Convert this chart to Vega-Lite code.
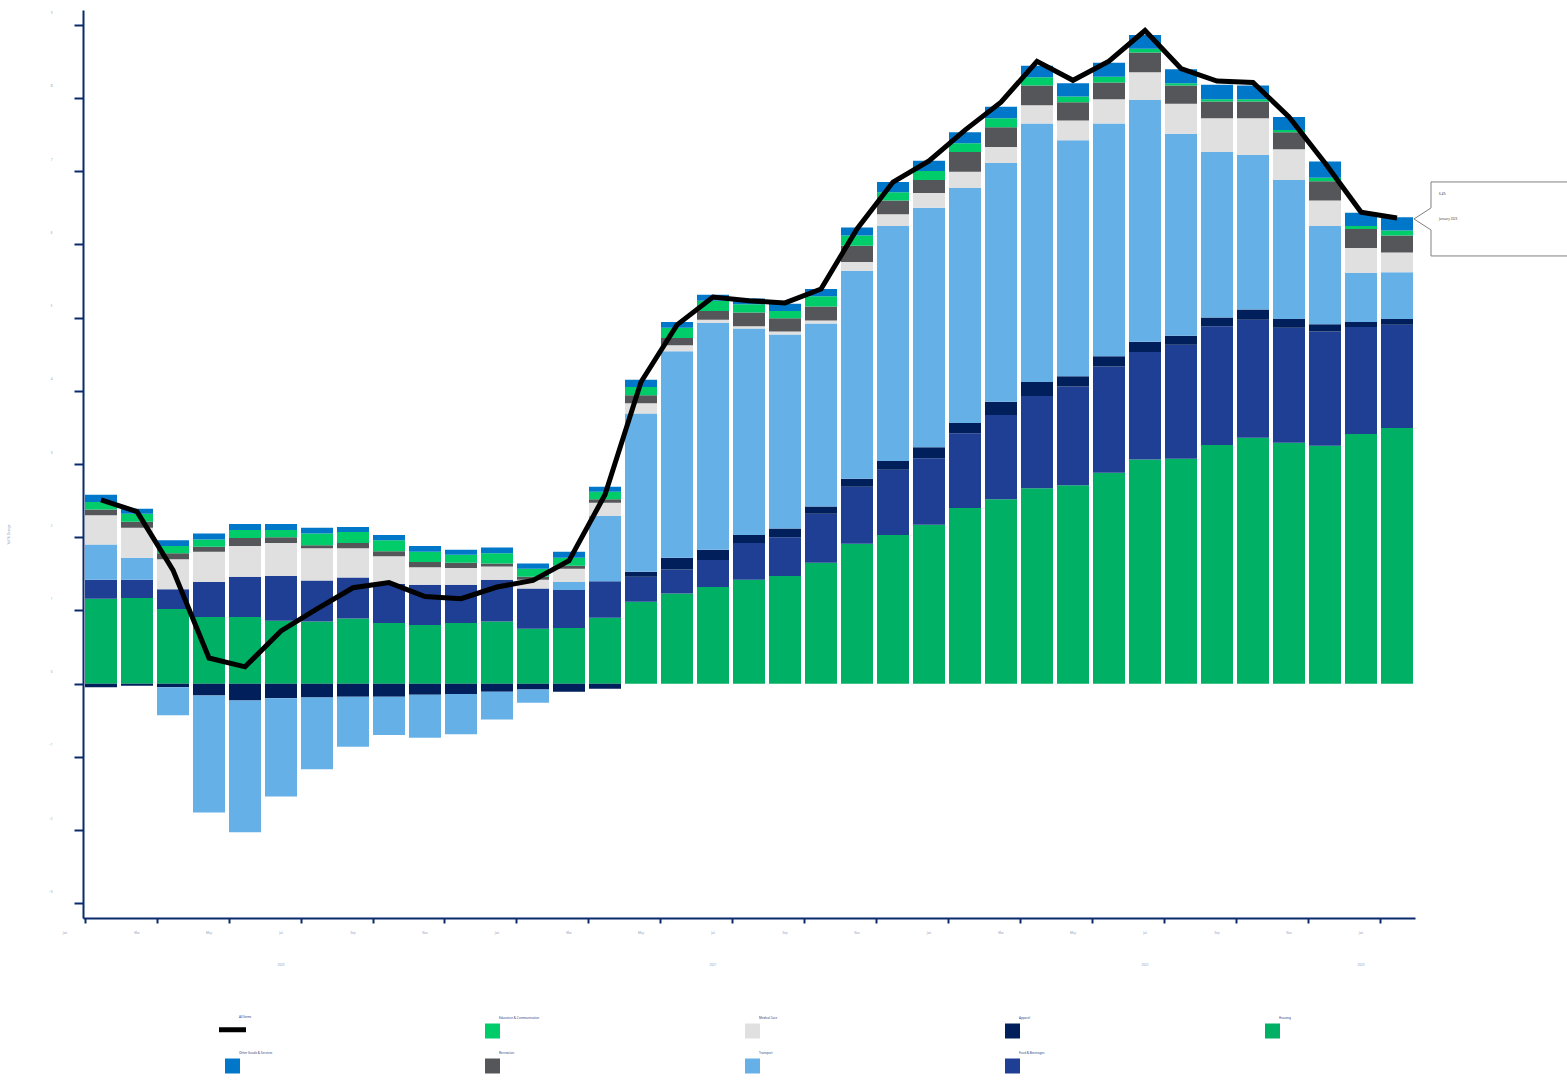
{
  "$schema": "https://vega.github.io/schema/vega-lite/v6.json",
  "width": 1332,
  "height": 908,
  "autosize": {"type": "none"},
  "padding": {"left": 83, "top": 10, "right": 152, "bottom": 163},
  "background": "white",
  "config": {
    "view": {"stroke": null},
    "axis": {"domainColor": "#0b2a6b", "tickColor": "#0b2a6b", "domainWidth": 2, "tickWidth": 2, "grid": false, "labelFont": "Noto Sans", "titleFont": "Noto Sans"},
    "legend": {"labelFont": "Noto Sans"}
  },
  "datasets": {
    "contrib": [
      {"month":"2020-01","category":"Housing","value":1.16},{"month":"2020-01","category":"Food & Beverages","value":0.26},{"month":"2020-01","category":"Apparel","value":-0.05},{"month":"2020-01","category":"Transport","value":0.48},{"month":"2020-01","category":"Medical Care","value":0.40},{"month":"2020-01","category":"Recreation","value":0.08},{"month":"2020-01","category":"Education & Communication","value":0.10},{"month":"2020-01","category":"Other Goods & Services","value":0.10},
      {"month":"2020-02","category":"Housing","value":1.17},{"month":"2020-02","category":"Food & Beverages","value":0.25},{"month":"2020-02","category":"Apparel","value":-0.03},{"month":"2020-02","category":"Transport","value":0.30},{"month":"2020-02","category":"Medical Care","value":0.41},{"month":"2020-02","category":"Recreation","value":0.08},{"month":"2020-02","category":"Education & Communication","value":0.11},{"month":"2020-02","category":"Other Goods & Services","value":0.07},
      {"month":"2020-03","category":"Housing","value":1.02},{"month":"2020-03","category":"Food & Beverages","value":0.27},{"month":"2020-03","category":"Apparel","value":-0.05},{"month":"2020-03","category":"Transport","value":-0.38},{"month":"2020-03","category":"Medical Care","value":0.41},{"month":"2020-03","category":"Recreation","value":0.08},{"month":"2020-03","category":"Education & Communication","value":0.10},{"month":"2020-03","category":"Other Goods & Services","value":0.08},
      {"month":"2020-04","category":"Housing","value":0.91},{"month":"2020-04","category":"Food & Beverages","value":0.48},{"month":"2020-04","category":"Apparel","value":-0.16},{"month":"2020-04","category":"Transport","value":-1.60},{"month":"2020-04","category":"Medical Care","value":0.41},{"month":"2020-04","category":"Recreation","value":0.07},{"month":"2020-04","category":"Education & Communication","value":0.10},{"month":"2020-04","category":"Other Goods & Services","value":0.08},
      {"month":"2020-05","category":"Housing","value":0.91},{"month":"2020-05","category":"Food & Beverages","value":0.55},{"month":"2020-05","category":"Apparel","value":-0.23},{"month":"2020-05","category":"Transport","value":-1.80},{"month":"2020-05","category":"Medical Care","value":0.42},{"month":"2020-05","category":"Recreation","value":0.11},{"month":"2020-05","category":"Education & Communication","value":0.11},{"month":"2020-05","category":"Other Goods & Services","value":0.08},
      {"month":"2020-06","category":"Housing","value":0.86},{"month":"2020-06","category":"Food & Beverages","value":0.61},{"month":"2020-06","category":"Apparel","value":-0.20},{"month":"2020-06","category":"Transport","value":-1.34},{"month":"2020-06","category":"Medical Care","value":0.45},{"month":"2020-06","category":"Recreation","value":0.08},{"month":"2020-06","category":"Education & Communication","value":0.10},{"month":"2020-06","category":"Other Goods & Services","value":0.08},
      {"month":"2020-07","category":"Housing","value":0.85},{"month":"2020-07","category":"Food & Beverages","value":0.56},{"month":"2020-07","category":"Apparel","value":-0.19},{"month":"2020-07","category":"Transport","value":-0.98},{"month":"2020-07","category":"Medical Care","value":0.44},{"month":"2020-07","category":"Recreation","value":0.04},{"month":"2020-07","category":"Education & Communication","value":0.16},{"month":"2020-07","category":"Other Goods & Services","value":0.08},
      {"month":"2020-08","category":"Housing","value":0.89},{"month":"2020-08","category":"Food & Beverages","value":0.56},{"month":"2020-08","category":"Apparel","value":-0.18},{"month":"2020-08","category":"Transport","value":-0.68},{"month":"2020-08","category":"Medical Care","value":0.40},{"month":"2020-08","category":"Recreation","value":0.07},{"month":"2020-08","category":"Education & Communication","value":0.15},{"month":"2020-08","category":"Other Goods & Services","value":0.07},
      {"month":"2020-09","category":"Housing","value":0.83},{"month":"2020-09","category":"Food & Beverages","value":0.53},{"month":"2020-09","category":"Apparel","value":-0.18},{"month":"2020-09","category":"Transport","value":-0.52},{"month":"2020-09","category":"Medical Care","value":0.38},{"month":"2020-09","category":"Recreation","value":0.07},{"month":"2020-09","category":"Education & Communication","value":0.15},{"month":"2020-09","category":"Other Goods & Services","value":0.07},
      {"month":"2020-10","category":"Housing","value":0.80},{"month":"2020-10","category":"Food & Beverages","value":0.55},{"month":"2020-10","category":"Apparel","value":-0.15},{"month":"2020-10","category":"Transport","value":-0.59},{"month":"2020-10","category":"Medical Care","value":0.24},{"month":"2020-10","category":"Recreation","value":0.07},{"month":"2020-10","category":"Education & Communication","value":0.14},{"month":"2020-10","category":"Other Goods & Services","value":0.08},
      {"month":"2020-11","category":"Housing","value":0.83},{"month":"2020-11","category":"Food & Beverages","value":0.52},{"month":"2020-11","category":"Apparel","value":-0.14},{"month":"2020-11","category":"Transport","value":-0.55},{"month":"2020-11","category":"Medical Care","value":0.23},{"month":"2020-11","category":"Recreation","value":0.07},{"month":"2020-11","category":"Education & Communication","value":0.11},{"month":"2020-11","category":"Other Goods & Services","value":0.07},
      {"month":"2020-12","category":"Housing","value":0.85},{"month":"2020-12","category":"Food & Beverages","value":0.57},{"month":"2020-12","category":"Apparel","value":-0.11},{"month":"2020-12","category":"Transport","value":-0.38},{"month":"2020-12","category":"Medical Care","value":0.18},{"month":"2020-12","category":"Recreation","value":0.04},{"month":"2020-12","category":"Education & Communication","value":0.14},{"month":"2020-12","category":"Other Goods & Services","value":0.08},
      {"month":"2021-01","category":"Housing","value":0.75},{"month":"2021-01","category":"Food & Beverages","value":0.55},{"month":"2021-01","category":"Apparel","value":-0.08},{"month":"2021-01","category":"Transport","value":-0.18},{"month":"2021-01","category":"Medical Care","value":0.12},{"month":"2021-01","category":"Recreation","value":0.04},{"month":"2021-01","category":"Education & Communication","value":0.11},{"month":"2021-01","category":"Other Goods & Services","value":0.07},
      {"month":"2021-02","category":"Housing","value":0.76},{"month":"2021-02","category":"Food & Beverages","value":0.52},{"month":"2021-02","category":"Apparel","value":-0.11},{"month":"2021-02","category":"Transport","value":0.11},{"month":"2021-02","category":"Medical Care","value":0.18},{"month":"2021-02","category":"Recreation","value":0.04},{"month":"2021-02","category":"Education & Communication","value":0.11},{"month":"2021-02","category":"Other Goods & Services","value":0.08},
      {"month":"2021-03","category":"Housing","value":0.90},{"month":"2021-03","category":"Food & Beverages","value":0.50},{"month":"2021-03","category":"Apparel","value":-0.07},{"month":"2021-03","category":"Transport","value":0.89},{"month":"2021-03","category":"Medical Care","value":0.18},{"month":"2021-03","category":"Recreation","value":0.05},{"month":"2021-03","category":"Education & Communication","value":0.10},{"month":"2021-03","category":"Other Goods & Services","value":0.07},
      {"month":"2021-04","category":"Housing","value":1.12},{"month":"2021-04","category":"Food & Beverages","value":0.34},{"month":"2021-04","category":"Apparel","value":0.07},{"month":"2021-04","category":"Transport","value":2.16},{"month":"2021-04","category":"Medical Care","value":0.14},{"month":"2021-04","category":"Recreation","value":0.11},{"month":"2021-04","category":"Education & Communication","value":0.11},{"month":"2021-04","category":"Other Goods & Services","value":0.10},
      {"month":"2021-05","category":"Housing","value":1.23},{"month":"2021-05","category":"Food & Beverages","value":0.33},{"month":"2021-05","category":"Apparel","value":0.16},{"month":"2021-05","category":"Transport","value":2.82},{"month":"2021-05","category":"Medical Care","value":0.08},{"month":"2021-05","category":"Recreation","value":0.10},{"month":"2021-05","category":"Education & Communication","value":0.14},{"month":"2021-05","category":"Other Goods & Services","value":0.08},
      {"month":"2021-06","category":"Housing","value":1.32},{"month":"2021-06","category":"Food & Beverages","value":0.37},{"month":"2021-06","category":"Apparel","value":0.14},{"month":"2021-06","category":"Transport","value":3.10},{"month":"2021-06","category":"Medical Care","value":0.04},{"month":"2021-06","category":"Recreation","value":0.12},{"month":"2021-06","category":"Education & Communication","value":0.14},{"month":"2021-06","category":"Other Goods & Services","value":0.08},
      {"month":"2021-07","category":"Housing","value":1.42},{"month":"2021-07","category":"Food & Beverages","value":0.50},{"month":"2021-07","category":"Apparel","value":0.11},{"month":"2021-07","category":"Transport","value":2.82},{"month":"2021-07","category":"Medical Care","value":0.03},{"month":"2021-07","category":"Recreation","value":0.19},{"month":"2021-07","category":"Education & Communication","value":0.11},{"month":"2021-07","category":"Other Goods & Services","value":0.08},
      {"month":"2021-08","category":"Housing","value":1.47},{"month":"2021-08","category":"Food & Beverages","value":0.53},{"month":"2021-08","category":"Apparel","value":0.12},{"month":"2021-08","category":"Transport","value":2.65},{"month":"2021-08","category":"Medical Care","value":0.04},{"month":"2021-08","category":"Recreation","value":0.18},{"month":"2021-08","category":"Education & Communication","value":0.10},{"month":"2021-08","category":"Other Goods & Services","value":0.10},
      {"month":"2021-09","category":"Housing","value":1.65},{"month":"2021-09","category":"Food & Beverages","value":0.67},{"month":"2021-09","category":"Apparel","value":0.10},{"month":"2021-09","category":"Transport","value":2.50},{"month":"2021-09","category":"Medical Care","value":0.04},{"month":"2021-09","category":"Recreation","value":0.19},{"month":"2021-09","category":"Education & Communication","value":0.14},{"month":"2021-09","category":"Other Goods & Services","value":0.10},
      {"month":"2021-10","category":"Housing","value":1.91},{"month":"2021-10","category":"Food & Beverages","value":0.78},{"month":"2021-10","category":"Apparel","value":0.11},{"month":"2021-10","category":"Transport","value":2.84},{"month":"2021-10","category":"Medical Care","value":0.12},{"month":"2021-10","category":"Recreation","value":0.22},{"month":"2021-10","category":"Education & Communication","value":0.14},{"month":"2021-10","category":"Other Goods & Services","value":0.11},
      {"month":"2021-11","category":"Housing","value":2.03},{"month":"2021-11","category":"Food & Beverages","value":0.89},{"month":"2021-11","category":"Apparel","value":0.12},{"month":"2021-11","category":"Transport","value":3.21},{"month":"2021-11","category":"Medical Care","value":0.16},{"month":"2021-11","category":"Recreation","value":0.19},{"month":"2021-11","category":"Education & Communication","value":0.11},{"month":"2021-11","category":"Other Goods & Services","value":0.14},
      {"month":"2021-12","category":"Housing","value":2.17},{"month":"2021-12","category":"Food & Beverages","value":0.91},{"month":"2021-12","category":"Apparel","value":0.15},{"month":"2021-12","category":"Transport","value":3.27},{"month":"2021-12","category":"Medical Care","value":0.20},{"month":"2021-12","category":"Recreation","value":0.18},{"month":"2021-12","category":"Education & Communication","value":0.12},{"month":"2021-12","category":"Other Goods & Services","value":0.14},
      {"month":"2022-01","category":"Housing","value":2.40},{"month":"2022-01","category":"Food & Beverages","value":1.02},{"month":"2022-01","category":"Apparel","value":0.14},{"month":"2022-01","category":"Transport","value":3.21},{"month":"2022-01","category":"Medical Care","value":0.22},{"month":"2022-01","category":"Recreation","value":0.27},{"month":"2022-01","category":"Education & Communication","value":0.12},{"month":"2022-01","category":"Other Goods & Services","value":0.15},
      {"month":"2022-02","category":"Housing","value":2.52},{"month":"2022-02","category":"Food & Beverages","value":1.15},{"month":"2022-02","category":"Apparel","value":0.18},{"month":"2022-02","category":"Transport","value":3.26},{"month":"2022-02","category":"Medical Care","value":0.22},{"month":"2022-02","category":"Recreation","value":0.27},{"month":"2022-02","category":"Education & Communication","value":0.12},{"month":"2022-02","category":"Other Goods & Services","value":0.16},
      {"month":"2022-03","category":"Housing","value":2.67},{"month":"2022-03","category":"Food & Beverages","value":1.26},{"month":"2022-03","category":"Apparel","value":0.19},{"month":"2022-03","category":"Transport","value":3.53},{"month":"2022-03","category":"Medical Care","value":0.25},{"month":"2022-03","category":"Recreation","value":0.27},{"month":"2022-03","category":"Education & Communication","value":0.11},{"month":"2022-03","category":"Other Goods & Services","value":0.16},
      {"month":"2022-04","category":"Housing","value":2.71},{"month":"2022-04","category":"Food & Beverages","value":1.35},{"month":"2022-04","category":"Apparel","value":0.14},{"month":"2022-04","category":"Transport","value":3.22},{"month":"2022-04","category":"Medical Care","value":0.27},{"month":"2022-04","category":"Recreation","value":0.25},{"month":"2022-04","category":"Education & Communication","value":0.08},{"month":"2022-04","category":"Other Goods & Services","value":0.18},
      {"month":"2022-05","category":"Housing","value":2.88},{"month":"2022-05","category":"Food & Beverages","value":1.45},{"month":"2022-05","category":"Apparel","value":0.14},{"month":"2022-05","category":"Transport","value":3.18},{"month":"2022-05","category":"Medical Care","value":0.33},{"month":"2022-05","category":"Recreation","value":0.23},{"month":"2022-05","category":"Education & Communication","value":0.08},{"month":"2022-05","category":"Other Goods & Services","value":0.19},
      {"month":"2022-06","category":"Housing","value":3.06},{"month":"2022-06","category":"Food & Beverages","value":1.47},{"month":"2022-06","category":"Apparel","value":0.14},{"month":"2022-06","category":"Transport","value":3.30},{"month":"2022-06","category":"Medical Care","value":0.38},{"month":"2022-06","category":"Recreation","value":0.27},{"month":"2022-06","category":"Education & Communication","value":0.05},{"month":"2022-06","category":"Other Goods & Services","value":0.19},
      {"month":"2022-07","category":"Housing","value":3.07},{"month":"2022-07","category":"Food & Beverages","value":1.56},{"month":"2022-07","category":"Apparel","value":0.12},{"month":"2022-07","category":"Transport","value":2.76},{"month":"2022-07","category":"Medical Care","value":0.41},{"month":"2022-07","category":"Recreation","value":0.25},{"month":"2022-07","category":"Education & Communication","value":0.03},{"month":"2022-07","category":"Other Goods & Services","value":0.19},
      {"month":"2022-08","category":"Housing","value":3.26},{"month":"2022-08","category":"Food & Beverages","value":1.62},{"month":"2022-08","category":"Apparel","value":0.12},{"month":"2022-08","category":"Transport","value":2.26},{"month":"2022-08","category":"Medical Care","value":0.46},{"month":"2022-08","category":"Recreation","value":0.23},{"month":"2022-08","category":"Education & Communication","value":0.03},{"month":"2022-08","category":"Other Goods & Services","value":0.20},
      {"month":"2022-09","category":"Housing","value":3.36},{"month":"2022-09","category":"Food & Beverages","value":1.61},{"month":"2022-09","category":"Apparel","value":0.14},{"month":"2022-09","category":"Transport","value":2.11},{"month":"2022-09","category":"Medical Care","value":0.50},{"month":"2022-09","category":"Recreation","value":0.23},{"month":"2022-09","category":"Education & Communication","value":0.03},{"month":"2022-09","category":"Other Goods & Services","value":0.19},
      {"month":"2022-10","category":"Housing","value":3.29},{"month":"2022-10","category":"Food & Beverages","value":1.57},{"month":"2022-10","category":"Apparel","value":0.12},{"month":"2022-10","category":"Transport","value":1.90},{"month":"2022-10","category":"Medical Care","value":0.42},{"month":"2022-10","category":"Recreation","value":0.23},{"month":"2022-10","category":"Education & Communication","value":0.03},{"month":"2022-10","category":"Other Goods & Services","value":0.18},
      {"month":"2022-11","category":"Housing","value":3.25},{"month":"2022-11","category":"Food & Beverages","value":1.56},{"month":"2022-11","category":"Apparel","value":0.10},{"month":"2022-11","category":"Transport","value":1.34},{"month":"2022-11","category":"Medical Care","value":0.35},{"month":"2022-11","category":"Recreation","value":0.26},{"month":"2022-11","category":"Education & Communication","value":0.05},{"month":"2022-11","category":"Other Goods & Services","value":0.22},
      {"month":"2022-12","category":"Housing","value":3.41},{"month":"2022-12","category":"Food & Beverages","value":1.46},{"month":"2022-12","category":"Apparel","value":0.07},{"month":"2022-12","category":"Transport","value":0.67},{"month":"2022-12","category":"Medical Care","value":0.34},{"month":"2022-12","category":"Recreation","value":0.26},{"month":"2022-12","category":"Education & Communication","value":0.04},{"month":"2022-12","category":"Other Goods & Services","value":0.18},
      {"month":"2023-01","category":"Housing","value":3.49},{"month":"2023-01","category":"Food & Beverages","value":1.41},{"month":"2023-01","category":"Apparel","value":0.08},{"month":"2023-01","category":"Transport","value":0.64},{"month":"2023-01","category":"Medical Care","value":0.27},{"month":"2023-01","category":"Recreation","value":0.23},{"month":"2023-01","category":"Education & Communication","value":0.07},{"month":"2023-01","category":"Other Goods & Services","value":0.18}
    ],
    "cpi": [
      {"month":"2020-01","value":2.51},{"month":"2020-02","value":2.35},{"month":"2020-03","value":1.55},{"month":"2020-04","value":0.35},{"month":"2020-05","value":0.23},{"month":"2020-06","value":0.72},{"month":"2020-07","value":1.02},{"month":"2020-08","value":1.31},{"month":"2020-09","value":1.38},{"month":"2020-10","value":1.19},{"month":"2020-11","value":1.16},{"month":"2020-12","value":1.32},
      {"month":"2021-01","value":1.41},{"month":"2021-02","value":1.68},{"month":"2021-03","value":2.58},{"month":"2021-04","value":4.12},{"month":"2021-05","value":4.90},{"month":"2021-06","value":5.28},{"month":"2021-07","value":5.23},{"month":"2021-08","value":5.20},{"month":"2021-09","value":5.39},{"month":"2021-10","value":6.21},{"month":"2021-11","value":6.85},{"month":"2021-12","value":7.14},
      {"month":"2022-01","value":7.56},{"month":"2022-02","value":7.94},{"month":"2022-03","value":8.50},{"month":"2022-04","value":8.24},{"month":"2022-05","value":8.50},{"month":"2022-06","value":8.92},{"month":"2022-07","value":8.40},{"month":"2022-08","value":8.23},{"month":"2022-09","value":8.21},{"month":"2022-10","value":7.74},{"month":"2022-11","value":7.11},{"month":"2022-12","value":6.44},
      {"month":"2023-01","value":6.36}
    ],
    "callout": [
      {"month":"2023-01","value":6.36,"label":"6.4%","date":"January 2023"}
    ]
  },
  "layer": [
    {
      "data": {"name": "contrib"},
      "transform": [
        {"calculate": "indexof(['Housing','Food & Beverages','Apparel','Transport','Medical Care','Recreation','Education & Communication','Other Goods & Services'], datum.category)", "as": "stackOrder"}
      ],
      "mark": {"type": "bar"},
      "encoding": {
        "x": {
          "field": "month", "type": "ordinal",
          "scale": {"paddingInner": 0.111, "paddingOuter": 0.0556},
          "axis": {
            "title": null,
            "values": ["2020-01","2020-03","2020-05","2020-07","2020-09","2020-11","2021-01","2021-03","2021-05","2021-07","2021-09","2021-11","2022-01","2022-03","2022-05","2022-07","2022-09","2022-11","2023-01"],
            "bandPosition": 0,
            "labelAngle": 0,
            "labelOffset": -36,
            "labelFontSize": 3,
            "labelColor": "#8a9bc0",
            "labelBaseline": "top",
            "labelPadding": 8,
            "labelLineHeight": 32,
            "labelOverlap": false,
            "labelBound": false,
            "tickSize": 5,
            "labelExpr": "(substring(datum.value,5,7) == '07' || datum.value == '2023-01') ? [['Jan','Feb','Mar','Apr','May','Jun','Jul','Aug','Sep','Oct','Nov','Dec'][toNumber(substring(datum.value,5,7)) - 1], substring(datum.value,0,4)] : ['Jan','Feb','Mar','Apr','May','Jun','Jul','Aug','Sep','Oct','Nov','Dec'][toNumber(substring(datum.value,5,7)) - 1]",
            "encode": {
              "ticks": {"update": {"y2": {"signal": "substring(datum.value,5,7) == '01' ? 9 : 5"}}}
            }
          }
        },
        "y": {
          "field": "value", "type": "quantitative", "stack": "zero",
          "scale": {"domain": [-3.2, 9.2], "nice": false, "zero": false},
          "axis": {
            "title": "YoY % Change",
            "values": [-3,-2,-1,0,1,2,3,4,5,6,7,8,9],
            "format": "d",
            "tickSize": 9,
            "labelPadding": 22,
            "labelOffset": -12,
            "labelFontSize": 3,
            "labelColor": "#8a9bc0",
            "titleFontSize": 3,
            "titleFontWeight": "normal",
            "titleColor": "#8a9bc0",
            "titleX": -73,
            "titleY": 524
          }
        },
        "color": {
          "field": "category", "type": "nominal",
          "scale": {
            "domain": ["All Items","Education & Communication","Medical Care","Apparel","Housing","Other Goods & Services","Recreation","Transport","Food & Beverages"],
            "range": ["#000000","#00cc6a","#e0e0e0","#001f5b","#00b064","#0077c8","#555659","#66b0e8","#1e3f94"]
          },
          "legend": {
            "title": null,
            "orient": "none",
            "legendX": 148,
            "legendY": 1018,
            "direction": "horizontal",
            "columns": 5,
            "gridAlign": "all",
            "columnPadding": 205,
            "rowPadding": 11.5,
            "labelFontSize": 3,
            "labelColor": "#2a4080",
            "labelOffset": 5,
            "labelBaseline": "bottom",
            "labelLimit": 300,
            "symbolType": "square",
            "symbolSize": 225,
            "encode": {
              "symbols": {"update": {
                "shape": {"signal": "datum.value === 'All Items' ? 'stroke' : 'square'"},
                "size": {"signal": "datum.value === 'All Items' ? 729 : 225"},
                "strokeWidth": {"signal": "datum.value === 'All Items' ? 5 : 0"},
                "fill": {"signal": "scale('color', datum.value)"},
                "stroke": {"signal": "scale('color', datum.value)"},
                "opacity": {"value": 1},
                "fillOpacity": {"value": 1},
                "strokeOpacity": {"value": 1}
              }},
              "labels": {"update": {"dy": {"value": -11}}}
            }
          }
        },
        "order": {"field": "stackOrder", "type": "quantitative", "sort": "ascending"}
      }
    },
    {
      "data": {"name": "cpi"},
      "mark": {"type": "line", "strokeWidth": 5},
      "encoding": {
        "x": {"field": "month", "type": "ordinal"},
        "y": {"field": "value", "type": "quantitative"},
        "color": {"datum": "All Items", "type": "nominal"}
      }
    },
    {
      "data": {"name": "callout"},
      "mark": {
        "type": "point",
        "shape": "M 0.17 0.01 L 0.34 -0.10 L 0.34 -0.36 L 1.80 -0.36 L 1.80 0.38 L 0.34 0.38 L 0.34 0.12 Z",
        "size": 40000,
        "filled": true,
        "fill": "white",
        "stroke": "#808080",
        "strokeWidth": 1,
        "opacity": 1
      },
      "encoding": {
        "x": {"field": "month", "type": "ordinal"},
        "y": {"field": "value", "type": "quantitative"}
      }
    },
    {
      "data": {"name": "callout"},
      "mark": {"type": "text", "align": "left", "baseline": "middle", "dx": 42, "dy": -24, "fontSize": 3, "color": "#444444", "font": "Noto Sans"},
      "encoding": {
        "x": {"field": "month", "type": "ordinal"},
        "y": {"field": "value", "type": "quantitative"},
        "text": {"field": "label"}
      }
    },
    {
      "data": {"name": "callout"},
      "mark": {"type": "text", "align": "left", "baseline": "middle", "dx": 42, "dy": 1, "fontSize": 3, "color": "#444444", "font": "Noto Sans"},
      "encoding": {
        "x": {"field": "month", "type": "ordinal"},
        "y": {"field": "value", "type": "quantitative"},
        "text": {"field": "date"}
      }
    }
  ]
}
